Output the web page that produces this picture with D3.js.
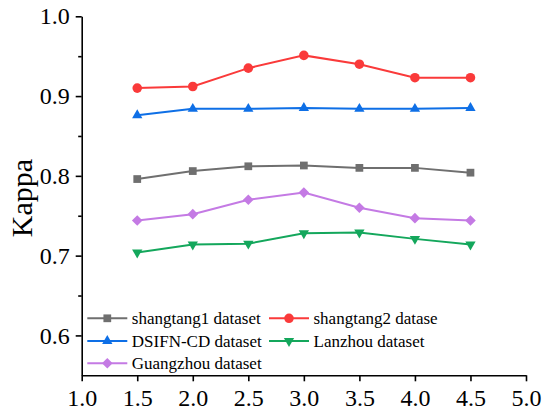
<!DOCTYPE html>
<html>
<head>
<meta charset="utf-8">
<script src="https://cdn.jsdelivr.net/npm/d3@7"></script>
<style>
  html, body { margin: 0; padding: 0; background: #fff; }
  svg { display: block; }
</style>
</head>
<body>
<div id="chart"></div>
<script>
// Kappa vs parameter for five datasets (line + marker chart)

const xValues = [1.5, 2.0, 2.5, 3.0, 3.5, 4.0, 4.5];
const shangtang1 = [0.796, 0.806, 0.812, 0.813, 0.810, 0.810, 0.804];
const shangtang2 = [0.910, 0.912, 0.935, 0.951, 0.940, 0.923, 0.923];
const dsifn = [0.876, 0.884, 0.884, 0.885, 0.884, 0.884, 0.885];
const lanzhou = [0.704, 0.714, 0.715, 0.728, 0.729, 0.721, 0.714];
const guangzhou = [0.744, 0.752, 0.770, 0.779, 0.760, 0.747, 0.744];

const seriesNames = ['shangtang1 dataset', 'shangtang2 datase', 'DSIFN-CD dataset', 'Lanzhou dataset', 'Guangzhou dataset'];
const xTicks = [1.0, 1.5, 2.0, 2.5, 3.0, 3.5, 4.0, 4.5, 5.0];
const yTicks = [0.6, 0.7, 0.8, 0.9, 1.0];
const yMinorTicks = [0.65, 0.75, 0.85, 0.95];

const series = [
    { name: seriesNames[0], values: shangtang1, color: '#6f6f6f', shape: 'square' },
    { name: seriesNames[1], values: shangtang2, color: '#fa3a3a', shape: 'circle' },
    { name: seriesNames[2], values: dsifn, color: '#0e6fe6', shape: 'up' },
    { name: seriesNames[3], values: lanzhou, color: '#14a75c', shape: 'down' },
    { name: seriesNames[4], values: guangzhou, color: '#c47ae4', shape: 'diamond' },
];

const width = 550, height = 415;
const margin = { top: 16.3, right: 24, bottom: 39.7, left: 81.7 };
const FONT = '"Liberation Serif", "Times New Roman", serif';

const svg = d3.select('#chart').append('svg')
    .attr('width', width)
    .attr('height', height);

const x = d3.scaleLinear().domain([1.0, 5.0]).range([margin.left, width - margin.right]);
const y = d3.scaleLinear().domain([0.55, 1.0]).range([height - margin.bottom, margin.top]);

function symbolFor(shape) {
    if (shape === 'square') return d3.symbol(d3.symbolSquare, 60)();
    if (shape === 'circle') return d3.symbol(d3.symbolCircle, 72)();
    if (shape === 'diamond') return d3.symbol(d3.symbolSquare, 56)();
    return d3.symbol(d3.symbolTriangle, 46)();
}
function symbolRotate(shape) {
    if (shape === 'diamond') return 45;
    if (shape === 'down') return 180;
    return 0;
}

// Axes
svg.append('g')
    .attr('transform', `translate(0,${y.range()[0]})`)
    .call(d3.axisBottom(x).tickValues(xTicks).tickFormat(d3.format('.1f')).tickSize(6).tickPadding(8).tickSizeOuter(0));

svg.append('g')
    .attr('transform', `translate(${margin.left},0)`)
    .call(d3.axisLeft(y).tickValues(yTicks).tickFormat(d3.format('.1f')).tickSize(6).tickPadding(6).tickSizeOuter(0));

svg.append('g')
    .attr('transform', `translate(${margin.left},0)`)
    .call(d3.axisLeft(y).tickValues(yMinorTicks).tickFormat('').tickSize(3.5).tickSizeOuter(0))
    .call(g => g.select('.domain').remove());

svg.selectAll('.domain, .tick line')
    .attr('stroke', '#000')
    .attr('stroke-width', 1.6);

svg.selectAll('.tick text')
    .attr('fill', '#000')
    .style('font-family', FONT)
    .style('font-size', '24px');

// Y label
svg.append('text')
    .attr('transform', `translate(31.5,198) rotate(-90)`)
    .attr('text-anchor', 'middle')
    .style('font-family', FONT)
    .style('font-size', '30px')
    .attr('fill', '#000')
    .text('Kappa');

// Lines and markers
const line = d3.line()
    .x((d, i) => x(xValues[i]))
    .y(d => y(d));

const lineGroup = svg.append('g');
for (const s of series) {
    lineGroup.append('path')
        .datum(s.values)
        .attr('d', line)
        .attr('fill', 'none')
        .attr('stroke', s.color)
        .attr('stroke-width', 2);
}
for (const s of series) {
    lineGroup.selectAll(null)
        .data(s.values)
        .join('path')
        .attr('d', symbolFor(s.shape))
        .attr('transform', (d, i) => `translate(${x(xValues[i])},${y(d)}) rotate(${symbolRotate(s.shape)})`)
        .attr('fill', s.color);
}

// Legend (two columns, filled row by row)
const legendCols = [87.3, 269];
const legendRows = [318.3, 341, 363.3];
const legend = svg.append('g');
series.forEach((s, i) => {
    const lx = legendCols[i % 2];
    const ly = legendRows[Math.floor(i / 2)];
    const g = legend.append('g').attr('transform', `translate(${lx},${ly})`);
    g.append('line')
        .attr('x1', 0).attr('x2', 40)
        .attr('y1', 0).attr('y2', 0)
        .attr('stroke', s.color)
        .attr('stroke-width', 2);
    g.append('path')
        .attr('d', symbolFor(s.shape))
        .attr('transform', `translate(20,0) rotate(${symbolRotate(s.shape)})`)
        .attr('fill', s.color);
    g.append('text')
        .attr('x', 44.5)
        .attr('dy', '0.33em')
        .style('font-family', FONT)
        .style('font-size', '17px')
        .attr('fill', '#000')
        .text(s.name);
});
</script>
</body>
</html>
